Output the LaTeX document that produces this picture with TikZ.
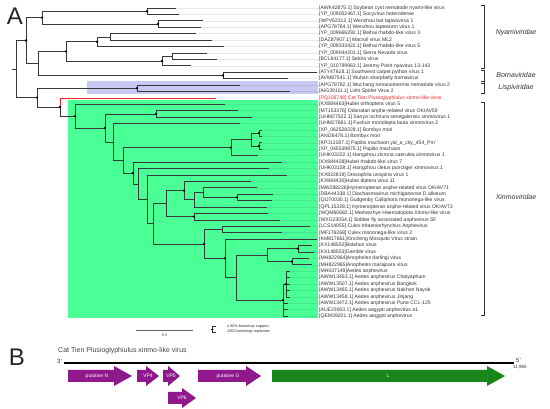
\documentclass[tikz,border=0pt]{standalone}
\usepackage{fontspec}
\setmainfont{Liberation Sans}
\definecolor{xgreen}{RGB}{74,255,150}
\definecolor{lav}{RGB}{200,200,245}
\definecolor{gpurple}{RGB}{142,24,140}
\definecolor{ggreen}{RGB}{24,134,24}
\definecolor{txt}{RGB}{51,51,51}
\definecolor{redl}{RGB}{238,36,36}
\newcommand{\genearr}[8]{% name, x0, x1, headstart, yc, colour, label, textx
  \fill[#6] (#2,#5-6) -- (#4,#5-6) -- (#4,#5-10) -- (#3,#5) -- (#4,#5+10) -- (#4,#5+6) -- (#2,#5+6) -- cycle;
  \node[genetxt] (#1) at (#8,#5) {#7};
}
\begin{document}
\begin{tikzpicture}[x=1pt,y=-1pt,
  br/.style={draw=black!78,line width=0.7pt},
  redbr/.style={draw=redl,line width=0.7pt},
  lead/.style={draw=black,opacity=0.09,line width=0.5pt},
  lab/.style={anchor=west,inner sep=0pt,font=\fontsize{5.1}{6}\selectfont,text=txt},
  fam/.style={font=\fontsize{7}{8}\selectfont\itshape,text=txt,inner sep=0pt},
  brk/.style={draw=txt,line width=0.7pt},
  genetxt/.style={font=\fontsize{5}{6}\selectfont,text=white,inner sep=0pt},
  big/.style={font=\fontsize{24}{24}\selectfont,inner sep=0pt,text=black!85},
]
\useasboundingbox (0,0) rectangle (550,409);
\fill[white] (0,0) rectangle (550,409);
% highlight boxes
\fill[lav] (87,81.5) rectangle (318,94.5);
\fill[xgreen] (68,100.5) rectangle (318,318);

\node[big] (A) at (15,16.5) {A};

% leaves
\foreach \i/\tx/\lbl in {
 1/176/{[AWK42875.1] Soybean cyst nematode nyami-like virus},
 2/179/{[YP\_009052467.1] Socyvirus heteroderae},
 3/203/{[WPV62312.1] Wenzhou bat tapwovirus 1},
 4/201/{[APG78764.1] Wenzhou tapeworm virus 1},
 5/196/{[YP\_009666292.1] Beihai rhabdo-like virus 3},
 6/212/{[DAZ87907.1] Macroil virus ML2},
 7/224/{[YP\_009333422.1] Beihai rhabdo-like virus 5},
 8/207/{[YP\_009044201.1] Sierra Nevada virus},
 9/217/{[BCL64177.1] Sekira virus},
 10/191/{[YP\_010799963.1] Jeremy Point nyavirus 13-143},
 11/317/{[ATY47618.1] Southwest carpet python virus 1},
 12/288/{[AVM87541.1] Wuhan sharpbelly bornavirus},
 13/240/{[APG78782.1] Wuchang romanomermis nematode virus 2},
 14/290/{[AIG39111.1] Lishi Spider Virus 2},
 16/225/{[KX884463]Hubei orthoptera virus 5},
 17/238/{[MT153376] Odonatan anphe-related virus OKIAV59},
 18/252/{[UHM27522.1] Sanya Ischnura senegalensis xinmovirus 1},
 19/240/{[UHM27681.1] Fushun monolepta lauta xinmovirus 2},
 20/262/{[XP\_062528228.1] Bombyx mori},
 21/262/{[ANI26478.1] Bombyx mori},
 22/262/{[KPJ12187.1] Papilio machaon yal\_a\_city\_454\_Pm'},
 23/262/{[XP\_045539875.1] Papilio machaon},
 24/258/{[UHK03222.1] Hangzhou zicrona caerulea xinmovirus 1},
 25/282/{[KX884428]Hubei rhabdo-like virus 7},
 26/269/{[UHK03158.1] Hangzhou cletus punctiger xinmovirus 1},
 27/287/{[KX822819] Drosophila unispina virus 1},
 28/251/{[KX884430]Hubei diptera virus 11},
 29/257/{[MW288226]Hymenopteran anphe-related virus OKIAV71},
 30/273/{[DBA44338.1] Diachasmavirus michiganense D.alloeum},
 31/272/{[QIJ70030.1] Gudgenby Calliphora mononega-like virus},
 32/267/{[QPL15328.1] Hymenopteran anphe-related virus OKIAV72},
 33/268/{[WQM60682.1] Medvezhye Haematopota Xinmo-like virus},
 34/280/{[WXG23054.1] Soldier fly associated anphevirus SF},
 35/310/{[LCS14055] Culex tritaeniorhynchus Anphevirus},
 36/282/{[MF176268] Culex mononega-like virus 2},
 37/317/{[KM817661]Xincheng Mosquito Virus strain},
 38/312/{[KX148552]Bolahun virus},
 39/314/{[KX148553]Gamble virus},
 40/309/{[MH822964]Anopheles darlingi virus},
 41/312/{[MH822965]Anopheles marajoara virus},
 42/290/{[MH037149]Aedes anphevirus},
 43/290/{[AWW13453.1] Aedes anphevirus Chaiyaphum},
 44/290/{[AWW13507.1] Aedes anphevirus Bangkok},
 45/290/{[AWW13465.1] Aedes anphevirus Nakhon Nayok},
 46/290/{[AWW13458.1] Aedes anphevirus Jinjang},
 47/288/{[AWW13472.1] Aedes anphevirus Pune CCL-125},
 48/288/{[AUE23903.1] Aedes aegypti anphevirus a1},
 49/288/{[QEM39201.1] Aedes aegypti anphevirus}}{
  \coordinate (t\i) at (\tx,{8+(\i-1)*6.42});
  \node[lab] (l\i) at (319,{8+(\i-1)*6.42}) {\lbl};
  \draw[lead] (t\i) -- (l\i.west);
}
\coordinate (t15) at (216,97.88);
\node[lab,text=redl] (l15) at (319,97.88) {[PQ106748] Cat Tien Plusioglyphiulus xinmo-like virus};

% internal nodes
\coordinate (root) at (16,69.06);
\coordinate (rootstub) at (12,69.06);
\coordinate (nup) at (26,40.50);
\coordinate (n1to4) at (42,17.63);
\coordinate (n12) at (147,11.21);
\coordinate (n34) at (158,24.05);
\coordinate (n5to12) at (38,63.37);
\coordinate (n5to10) at (66,51.34);
\coordinate (n567) at (97,41.71);
\coordinate (n56) at (110,36.89);
\coordinate (n8to10) at (162,60.97);
\coordinate (n89) at (172,56.15);
\coordinate (nborna) at (223,75.41);
\coordinate (n37) at (37,97.63);
\coordinate (nlispi) at (137,88.25);
\coordinate (n60) at (60,107.00);
\coordinate (nX) at (75,116.12);
\coordinate (n105) at (105,127.94);
\coordinate (n1718) at (156,113.93);
\coordinate (n113) at (113,141.94);
\coordinate (n122) at (123,160.32);
\coordinate (n20to24) at (231,147.64);
\coordinate (n20to23) at (251,139.61);
\coordinate (n2021) at (259,133.19);
\coordinate (n2223) at (259,146.03);
\coordinate (nA) at (133,173.00);
\coordinate (nB) at (138,183.92);
\coordinate (nC) at (147,199.35);
\coordinate (nD) at (153,223.77);
\coordinate (nE) at (166,203.61);
\coordinate (nF) at (184,190.57);
\coordinate (nH) at (194,199.80);
\coordinate (n29to31) at (203,192.58);
\coordinate (n3031) at (237,197.39);
\coordinate (nG) at (194,216.65);
\coordinate (nI) at (204,243.94);
\coordinate (nJ) at (222,229.49);
\coordinate (nK) at (225,258.38);
\coordinate (nL) at (236,277.64);
\coordinate (nM) at (267,255.17);
\coordinate (n3839) at (298,248.75);
\coordinate (n4041) at (292,261.59);
\coordinate (nN) at (283,300.11);
\coordinate (nP) at (286,284.06);

% branches
\draw[br] (rootstub) -- (root);
\foreach \p/\c in {root/nup,root/n37,nup/n1to4,nup/n5to12,n1to4/n12,n1to4/n34,
  n12/t1,n12/t2,n34/t3,n34/t4,n5to12/n5to10,n5to12/nborna,n5to10/n567,n5to10/n8to10,
  n567/n56,n567/t7,n56/t5,n56/t6,n8to10/n89,n8to10/t10,n89/t8,n89/t9,nborna/t11,nborna/t12,
  n37/nlispi,n37/n60,nlispi/t13,nlispi/t14,n60/nX,nX/t16,nX/n105,n105/n1718,n105/n113,
  n1718/t17,n1718/t18,n113/t19,n113/n122,n122/n20to24,n122/nA,n20to24/n20to23,n20to24/t24,
  n20to23/n2021,n20to23/n2223,n2021/t20,n2021/t21,n2223/t22,n2223/t23,
  nA/t25,nA/nB,nB/t26,nB/nC,nC/t27,nC/nD,nD/nE,nD/nI,nE/nF,nE/nG,nF/t28,nF/nH,
  nH/n29to31,nH/t32,n29to31/t29,n29to31/n3031,n3031/t30,n3031/t31,nG/t33,nG/t34,
  nI/nJ,nI/nK,nJ/t35,nJ/t36,nK/t37,nK/nL,nL/nM,nL/nN,nM/n3839,nM/n4041,
  n3839/t38,n3839/t39,n4041/t40,n4041/t41,nN/nP,nN/t47,nN/t48,nN/t49,
  nP/t42,nP/t43,nP/t44,nP/t45,nP/t46}{
  \draw[br] (\p) |- (\c);
}
\draw[redbr] (n60) |- (t15);

% bootstrap dots
\foreach \n in {n12,n34,n1to4,nup,n5to10,n567,n8to10,nborna,n37,nlispi,n60,nX,n105,n1718,
  n20to24,n2021,n2223,nA,nF,n3031,nG,nI,nK,n3839,n4041,nN,nP}{
  \fill[black] (\n) circle (1.3);
}

% family brackets
\draw[brk] (481,5) -- (484,5) -- (484,68) -- (481,68);
\draw[brk] (481,70) -- (484,70) -- (484,93) -- (481,93);
\draw[brk] (481,81) -- (484,81);
\draw[brk] (481,83) -- (484,83);
\draw[brk] (481,102) -- (484,102) -- (484,315) -- (481,315);
\node[fam] (fNy) at (516,33) {Nyamiviridae};
\node[fam] (fBo) at (516,75.5) {Bornaviridae};
\node[fam] (fLi) at (516,88) {Lispiviridae};
\node[fam] (fXi) at (516,197) {Xinmoviridae};

% scale bar and legend
\coordinate (sb0) at (136,330);
\coordinate (sb1) at (193,330);
\draw[black!60,line width=0.8pt] (sb0) -- (sb1);
\node[font=\fontsize{3.6}{4}\selectfont,text=txt,inner sep=0pt] (sbl) at (164.5,335.5) {0.5};
\draw[black!80,line width=0.5pt] (210.5,329.5) -- (212.5,329.5);
\draw[black!80,line width=0.5pt] (215.5,326.5) -| (212.5,332.5) -- (215.5,332.5);
\fill[black] (212.5,329.5) circle (0.9);
\node[anchor=west,font=\fontsize{3.8}{4}\selectfont,text=txt,inner sep=0pt] (lg1) at (227,326.5) {≥ 80\% bootstrap support,};
\node[anchor=west,font=\fontsize{3.8}{4}\selectfont,text=txt,inner sep=0pt] (lg2) at (227,331.5) {1000 bootstrap replicates};

% part B
\node[big] (B) at (17,357) {B};
\node[anchor=west,font=\fontsize{7}{8}\selectfont,text=black!75,inner sep=0pt] (gtitle) at (58,351) {Cat Tien Plusioglyphiulus xinmo-like virus};
\node[anchor=west,font=\fontsize{6}{7}\selectfont,text=black!80,inner sep=0pt] (p3) at (57,361) {3'};
\node[anchor=west,font=\fontsize{6}{7}\selectfont,text=black!80,inner sep=0pt] (p5) at (516,360) {5'};
\node[anchor=west,font=\fontsize{4.5}{5}\selectfont,text=black!80,inner sep=0pt] (glen) at (513,367.5) {11,985};
\coordinate (g0) at (64,363);
\coordinate (g1) at (514,363);
\draw[black,line width=1.6pt] (g0) -- (g1);

\genearr{gN}{68}{132}{114}{376}{gpurple}{putative N}{97}
\genearr{gVPf}{137}{159}{146}{376}{gpurple}{VP4}{148}
\genearr{gVPv}{163}{180}{168}{376}{gpurple}{VP5}{171}
\genearr{gG}{198}{261}{246}{376}{gpurple}{putative G}{228}
\genearr{gL}{272}{505}{487}{376}{ggreen}{L}{388}
\genearr{gVPs}{168}{196}{182}{398}{gpurple}{VP6}{182}
\end{tikzpicture}
\end{document}
